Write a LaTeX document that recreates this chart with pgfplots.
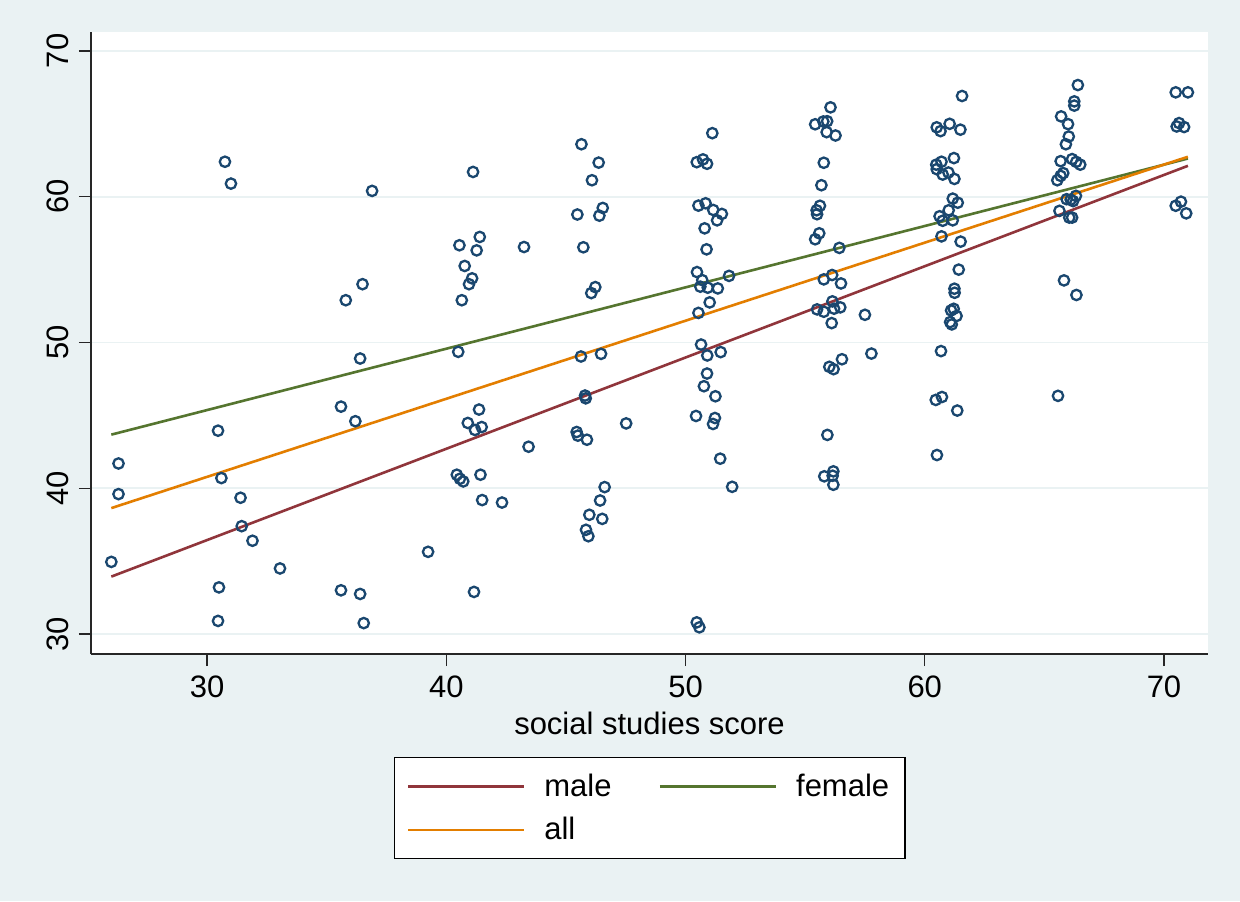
\documentclass[border=0pt]{standalone}
\usepackage{fontspec}
\setmainfont{Liberation Sans}
\usepackage{pgfplots}
\pgfplotsset{compat=1.18}
\definecolor{bg}{RGB}{234,242,243}
\definecolor{navy}{RGB}{26,71,111}
\definecolor{smaroon}{RGB}{144,53,59}
\definecolor{sgreen}{RGB}{85,117,47}
\definecolor{sorange}{RGB}{227,126,0}
\newcommand{\cf}{\fontsize{15.5pt}{18pt}\selectfont}
\begin{document}
\begin{tikzpicture}
\path[use as bounding box, fill=bg] (-45.5pt,-123.5pt) rectangle (574.5pt,327pt);
\begin{axis}[
  at={(0pt,0pt)}, anchor=south west,
  scale only axis, width=558.5pt, height=311pt,
  xmin=25.15, xmax=71.84, ymin=28.63, ymax=71.30,
  axis lines*=left,
  axis line style={black!85, line width=0.7pt},
  axis background/.style={fill=white},
  xtick={30,40,50,60,70}, ytick={30,40,50,60,70},
  tick align=outside, major tick length=6pt,
  tick style={black!85, line width=0.7pt},
  ymajorgrids, grid style={bg, line width=0.9pt},
  /pgf/number format/assume math mode=true,
  tick label style={font=\cf},
  xticklabel style={inner sep=4.5pt},
  yticklabel style={rotate=90, anchor=south, inner sep=5pt},
  xlabel={social studies score},
  every axis x label/.style={at={(axis description cs:0.5,0)}, anchor=base, yshift=-40pt, font=\cf},
  legend columns=2,
  legend cell align=left,
  legend style={at={(0.2713,-0.1656)}, anchor=north west, draw=black, line width=0.7pt, fill=white,
    font=\cf, inner sep=6pt, row sep=5pt,
    /tikz/every odd column/.append style={column sep=7.5pt},
    /tikz/every even column/.append style={column sep=21.5pt}},
  legend image code/.code={\draw[#1, line width=1.3pt] (0pt,0pt) -- (58pt,0pt);},
]
\addplot[only marks, mark=o, mark size=2.6pt, mark options={draw=navy, line width=1.15pt}, forget plot] table {
x y
26.0 34.95
26.3 41.7
26.3 39.6
30.75 62.4
31.0 60.9
30.46 43.95
30.6 40.7
31.4 39.35
31.45 37.4
31.9 36.4
30.5 33.2
30.46 30.9
33.05 34.5
36.9 60.4
35.8 52.9
36.5 54.0
36.4 48.9
35.6 45.6
36.2 44.6
35.6 33.0
36.4 32.75
36.55 30.75
41.12 61.7
41.4 57.24
40.55 56.67
41.27 56.32
43.25 56.55
40.77 55.25
41.08 54.4
40.95 54.0
40.65 52.9
40.5 49.36
45.65 63.6
46.37 62.34
46.09 61.13
46.54 59.23
46.4 58.7
45.48 58.78
45.73 56.53
46.23 53.8
46.06 53.39
45.63 49.04
46.47 49.22
41.37 45.4
40.9 44.48
41.2 44.0
41.48 44.2
43.44 42.85
40.44 40.93
40.57 40.65
40.71 40.47
41.43 40.93
41.5 39.19
42.33 39.02
39.24 35.64
41.16 32.89
45.8 46.36
45.83 46.17
45.45 43.86
45.5 43.61
45.88 43.33
47.52 44.45
46.62 40.08
46.43 39.16
45.98 38.18
46.52 37.9
45.84 37.15
45.94 36.71
51.12 64.36
50.47 62.37
50.73 62.56
50.9 62.26
50.54 59.39
50.84 59.55
51.16 59.09
51.52 58.82
51.32 58.38
50.8 57.83
50.88 56.39
50.48 54.83
50.7 54.28
50.62 53.83
50.93 53.76
51.35 53.71
51.82 54.57
51.01 52.75
50.54 52.03
50.65 49.86
50.91 49.11
51.47 49.34
50.9 47.87
50.77 47.0
51.25 46.31
50.44 44.96
51.23 44.82
51.15 44.41
51.45 42.03
51.95 40.1
50.47 30.8
50.58 30.46
56.06 66.13
55.42 64.97
55.76 65.16
55.92 65.18
55.9 64.43
56.27 64.2
55.78 62.33
55.68 60.79
55.62 59.38
55.48 59.07
55.5 58.8
55.59 57.49
55.42 57.08
56.43 56.49
55.78 54.33
56.13 54.63
56.5 54.05
55.5 52.27
55.78 52.11
56.14 52.82
56.21 52.32
56.47 52.41
56.11 51.33
57.5 51.9
57.77 49.24
56.54 48.85
56.01 48.33
56.19 48.17
55.93 43.66
56.18 41.16
55.8 40.82
56.15 40.86
56.18 40.24
61.56 66.91
60.5 64.76
60.66 64.5
61.04 65.0
61.49 64.6
61.22 62.65
60.48 62.2
60.7 62.4
60.5 61.89
60.75 61.52
60.99 61.66
61.24 61.22
61.17 59.87
61.38 59.59
61.0 59.07
60.62 58.66
60.75 58.35
61.17 58.38
60.7 57.28
61.5 56.92
61.42 55.0
61.24 53.69
61.25 53.41
61.21 52.31
61.1 52.2
61.33 51.82
61.06 51.4
61.13 51.24
60.68 49.41
60.46 46.06
60.72 46.26
61.36 45.33
60.51 42.28
66.4 67.66
66.25 66.54
66.25 66.25
65.7 65.51
65.99 64.98
66.02 64.13
65.9 63.6
65.68 62.44
66.16 62.58
66.33 62.39
66.5 62.2
65.79 61.62
65.68 61.43
65.54 61.13
65.93 59.83
66.32 60.06
65.63 59.03
66.04 58.57
66.16 58.57
65.82 54.26
66.34 53.26
65.57 46.34
66.1 59.8
66.2 59.7
70.49 67.16
71.0 67.16
70.63 65.05
70.53 64.82
70.84 64.78
70.49 59.38
70.71 59.66
70.93 58.86
};
\addplot[smaroon, line width=1.3pt] coordinates {(26,33.94) (71,62.12)};
\addlegendentry{male}
\addplot[sgreen, line width=1.3pt] coordinates {(26,43.68) (71,62.62)};
\addlegendentry{female}
\addplot[sorange, line width=1.3pt] coordinates {(26,38.64) (71,62.74)};
\addlegendentry{all}
\end{axis}
\end{tikzpicture}
\end{document}
